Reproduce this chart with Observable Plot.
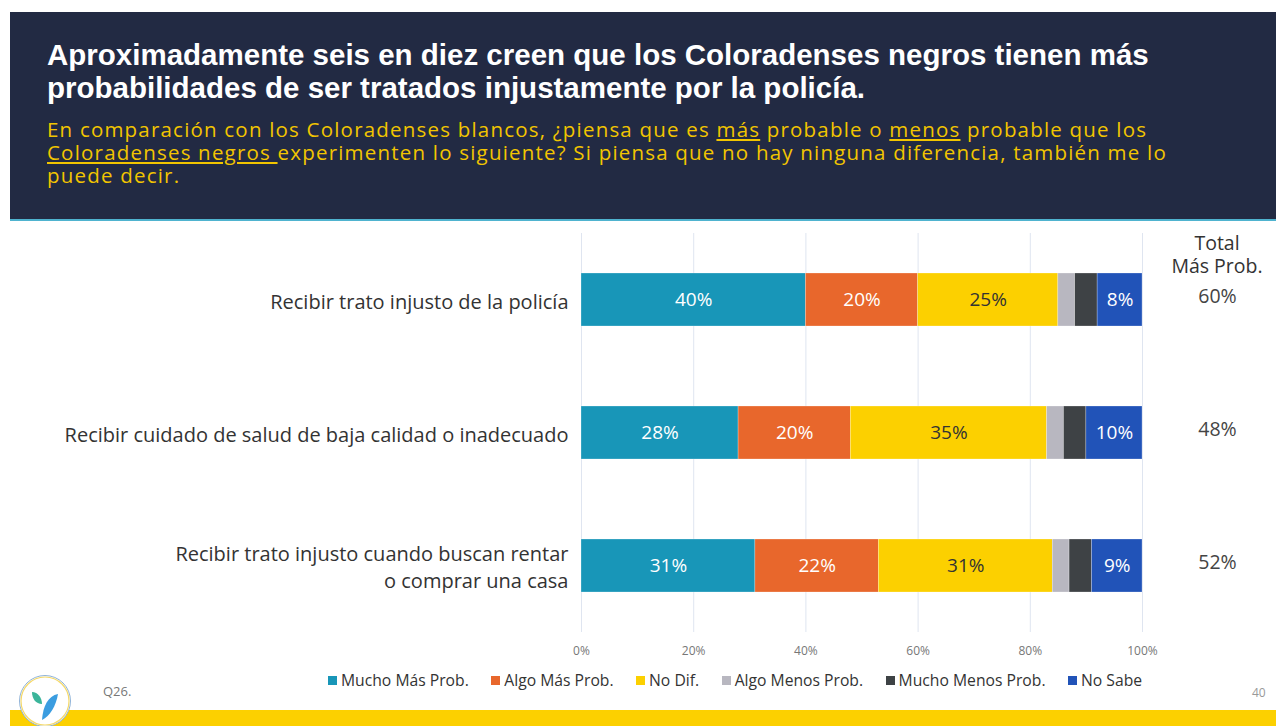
<!DOCTYPE html>
<html>
<head>
<meta charset="utf-8">
<script src="https://cdn.jsdelivr.net/npm/d3@7"></script>
<script src="https://cdn.jsdelivr.net/npm/@observablehq/plot@0.6"></script>
<style>
  html, body { margin: 0; padding: 0; background: #fff; }
  #root { position: relative; width: 1276px; height: 726px; overflow: hidden; font-family: "Open Sans", "Noto Sans", sans-serif; }
  #header { position: absolute; left: 10px; top: 12px; width: 1266px; height: 207px; background: #222a43; border-bottom: 2px solid #4fb3cf; }
  #title { position: absolute; left: 47px; top: 38px; color: #fff; font-family: "Liberation Sans", Arial, sans-serif; font-weight: bold; font-size: 29.5px; line-height: 33px; white-space: nowrap; }
  #subtitle { position: absolute; left: 47px; top: 118px; color: #f2c500; font-size: 20.5px; letter-spacing: 1.2px; line-height: 23px; white-space: nowrap; }
  #subtitle u { text-decoration-thickness: 1.5px; text-underline-offset: 2px; }
  #chart { position: absolute; left: 0; top: 222px; }
  #total { position: absolute; left: 1157px; top: 231px; width: 120px; text-align: center; color: #333; font-size: 19.5px; line-height: 23px; }
  #legend { position: absolute; left: 328px; top: 669px; display: flex; font-size: 15.7px; color: #333; }
  #legend .item { display: flex; align-items: center; margin-right: 22.5px; white-space: nowrap; }
  #legend .sw { width: 9px; height: 9px; margin-right: 4px; }
  #q { position: absolute; left: 103px; top: 682px; font-size: 13px; color: #777; }
  #page { position: absolute; left: 1252px; top: 684px; font-size: 12px; color: #999; }
  #bottombar { position: absolute; left: 10px; top: 710px; width: 1266px; height: 16px; background: #fcd000; }
  #logo { position: absolute; left: 18px; top: 674px; }
</style>
</head>
<body>
<div id="root">
  <div id="header"></div>
  <div id="title">Aproximadamente seis en diez creen que los Coloradenses negros tienen más<br>probabilidades de ser tratados injustamente por la policía.</div>
  <div id="subtitle">En comparación con los Coloradenses blancos, ¿piensa que es <u>más</u> probable o <u>menos</u> probable que los<br><u>Coloradenses negros </u>experimenten lo siguiente? Si piensa que no hay ninguna diferencia, también me lo<br>puede decir.</div>
  <div id="chart"></div>
  <div id="total">Total<br>Más Prob.</div>
  <div id="legend"></div>
  <div id="q">Q26.</div>
  <div id="page">40</div>
  <div id="bottombar"></div>
  <svg id="logo" width="54" height="54" viewBox="0 0 54 54">
    <circle cx="27" cy="27" r="25.5" fill="#fff" stroke="#8fb3d9" stroke-width="1"/>
    <circle cx="27" cy="27" r="24" fill="none" stroke="#f5d96a" stroke-width="1.2"/>
    <path d="M14 18 C20 18 24 24 24 30 C18 30 14 25 14 18 Z" fill="#3bb59a"/>
    <path d="M40 20 C30 22 25 32 24 46 C32 42 38 32 40 20 Z" fill="#3b9de0"/>
  </svg>
</div>
<script>
const categories = [
  "Recibir trato injusto de la policía",
  "Recibir cuidado de salud de baja calidad o inadecuado",
  "Recibir trato injusto cuando buscan rentar\no comprar una casa"
];
const seriesNames = ["Mucho Más Prob.", "Algo Más Prob.", "No Dif.", "Algo Menos Prob.", "Mucho Menos Prob.", "No Sabe"];
const seriesColors = ["#1896b8", "#e8672c", "#fcd000", "#b8b7c0", "#3e4245", "#2153b8"];
const labelColors = ["#ffffff", "#ffffff", "#333333", "#333333", "#ffffff", "#ffffff"];
const showLabel = [true, true, true, false, false, true];
const muchoMas = [40, 28, 31];
const algoMas = [20, 20, 22];
const noDif = [25, 35, 31];
const algoMenos = [3, 3, 3];
const muchoMenos = [4, 4, 4];
const noSabe = [8, 10, 9];
const totalMas = [60, 48, 52];
const xTicks = [0, 20, 40, 60, 80, 100];

const seriesValues = [muchoMas, algoMas, noDif, algoMenos, muchoMenos, noSabe];
const data = [];
categories.forEach((c, i) => {
  seriesNames.forEach((s, j) => {
    data.push({category: c, series: s, value: seriesValues[j][i], idx: j});
  });
});
const totals = categories.map((c, i) => ({category: c, total: totalMas[i]}));

const font = '"Open Sans", "Noto Sans", sans-serif';
const chart = Plot.plot({
  width: 1276,
  height: 445,
  marginLeft: 581,
  marginRight: 134,
  marginTop: 11,
  marginBottom: 35,
  style: {fontFamily: font, background: "transparent", overflow: "visible"},
  x: {domain: [0, 100], ticks: xTicks, tickFormat: d => d + "%", tickSize: 0, tickPadding: 14, label: null},
  y: {domain: categories, paddingInner: 0.6, paddingOuter: 0.3, axis: null},
  color: {domain: seriesNames, range: seriesColors},
  marks: [
    Plot.ruleX(xTicks, {stroke: "#dfe5f0", strokeWidth: 1}),
    Plot.axisX({ticks: xTicks, tickFormat: d => d + "%", tickSize: 0, tickPadding: 14, fontSize: 12, fill: "#777", label: null}),
    Plot.barX(data, Plot.stackX({x: "value", y: "category", fill: "series", order: seriesNames, stroke: "#ffffff", strokeOpacity: 0.5, strokeWidth: 0.5})),
    Plot.text(data, Plot.stackX({
      x: "value", y: "category", z: "series", order: seriesNames,
      text: d => showLabel[d.idx] ? d.value + "%" : "",
      fill: d => labelColors[d.idx],
      fontSize: 19
    })),
    Plot.text(categories, {x: 0, y: d => d, text: d => d, textAnchor: "end", dx: -13, fontSize: 20, fill: "#333", lineHeight: 1.35}),
    Plot.text(totals, {x: 100, y: "category", text: d => d.total + "%", dx: 75, fontSize: 19.5, fill: "#444", dy: -3})
  ]
});
document.getElementById("chart").appendChild(chart);

const legend = document.getElementById("legend");
seriesNames.forEach((s, i) => {
  const item = document.createElement("div");
  item.className = "item";
  item.innerHTML = `<span class="sw" style="background:${seriesColors[i]}"></span><span>${s}</span>`;
  legend.appendChild(item);
});
</script>
</body>
</html>
